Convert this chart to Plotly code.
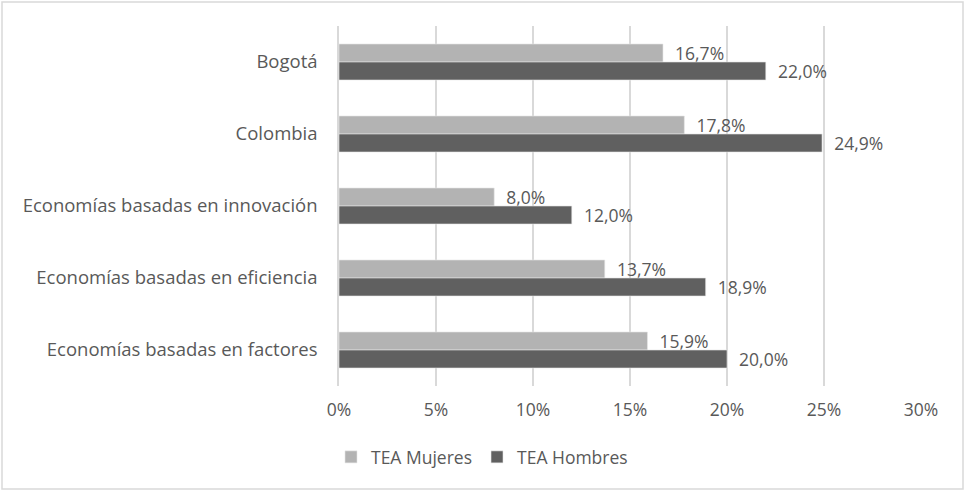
import plotly.graph_objects as go

categorias = [
    "Bogotá",
    "Colombia",
    "Economías basadas en innovación",
    "Economías basadas en eficiencia",
    "Economías basadas en factores",
]
tea_mujeres = [16.7, 17.8, 8.0, 13.7, 15.9]
tea_hombres = [22.0, 24.9, 12.0, 18.9, 20.0]
x_ticks = [0, 5, 10, 15, 20, 25, 30]
x_ticktext = [f"{v}%" for v in x_ticks]

W, H = 965, 491
ML, MR, MT, MB = 339, 44, 26, 105
pw, ph = W - ML - MR, H - MT - MB

font = dict(family="Open Sans, sans-serif", size=17.5, color="#595959")

fig = go.Figure()
fig.add_trace(go.Bar(
    y=categorias, x=tea_mujeres, name="TEA Mujeres", orientation="h",
    marker_color="#B3B3B3", marker_line=dict(color="#E6E6E6", width=0.6),
    texttemplate="  %{x:.1f}%", textposition="outside", cliponaxis=False,
    constraintext="none",
))
fig.add_trace(go.Bar(
    y=categorias, x=tea_hombres, name="TEA Hombres", orientation="h",
    marker_color="#606060", marker_line=dict(color="#E6E6E6", width=0.6),
    texttemplate="  %{x:.1f}%", textposition="outside", cliponaxis=False,
    constraintext="none",
))

# light border around the whole chart
fig.add_shape(
    type="rect", xref="paper", yref="paper", layer="below",
    x0=(2 - ML) / pw, x1=(W - 2 - ML) / pw,
    y0=(MT + ph - (H - 2)) / ph, y1=(MT + ph - 2) / ph,
    line=dict(color="#D9D9D9", width=1.5),
)

fig.update_layout(
    width=W, height=H,
    margin=dict(l=ML, r=MR, t=MT, b=MB, autoexpand=False),
    paper_bgcolor="white", plot_bgcolor="white",
    font=font, separators=",.",
    barmode="group", bargap=0.5, bargroupgap=0,
    legend=dict(
        orientation="h", x=(331 - ML) / pw, xanchor="left",
        y=(MT + ph - 457) / ph, yanchor="middle",
        font=font, traceorder="normal",
    ),
)
fig.update_xaxes(
    range=[0, 30], tickvals=x_ticks, ticktext=x_ticktext,
    showgrid=True, gridcolor="#D9D9D9", gridwidth=1.5,
    zeroline=False, showline=False, ticklabelstandoff=11, automargin=False,
)
fig.update_yaxes(
    autorange="reversed", showgrid=False, zeroline=False,
    showline=True, linecolor="#D9D9D9", linewidth=1.5,
    ticklabelstandoff=16, automargin=False, tickfont=dict(size=18.5),
)

fig.write_html(
    "out.html",
    config={"displayModeBar": False},
    post_script="document.body.style.margin='0';document.body.style.overflow='hidden';",
)
